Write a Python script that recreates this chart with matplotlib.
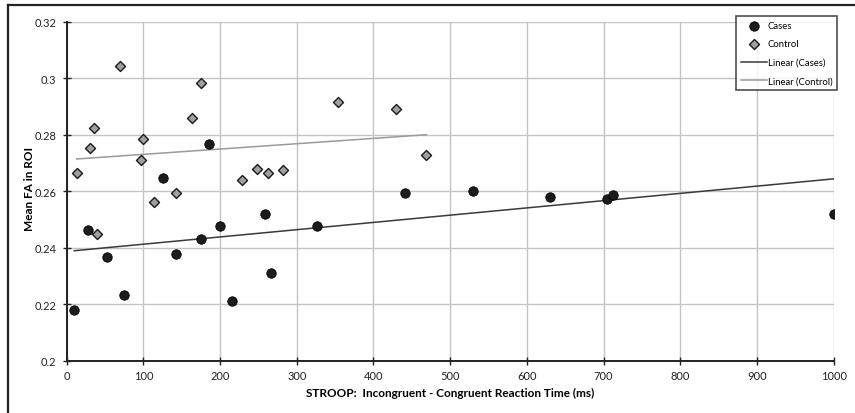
import matplotlib.pyplot as plt
import matplotlib.lines as mlines
import numpy as np

# Cases (black circles)
cases_x = [10, 28, 53, 75, 126, 143, 175, 186, 200, 216, 259, 267, 326, 441, 530, 630, 704, 712, 1000]
cases_y = [0.218, 0.2462, 0.2366, 0.2231, 0.2646, 0.2378, 0.2432, 0.2766, 0.2477, 0.2213,
           0.2519, 0.2311, 0.2477, 0.2595, 0.2599, 0.2581, 0.2572, 0.2587, 0.2518]

# Control (grey diamonds)
control_x = [13, 30, 35, 39, 69, 97, 100, 114, 142, 163, 175, 228, 248, 262, 282, 354, 430, 469]
control_y = [0.2666, 0.2754, 0.2824, 0.2450, 0.3043, 0.2710, 0.2784, 0.2563, 0.2593, 0.2860,
             0.2982, 0.2640, 0.2678, 0.2666, 0.2674, 0.2915, 0.2890, 0.2728]

xticks = list(range(0, 1001, 100))
yticks = [0.2, 0.22, 0.24, 0.26, 0.28, 0.3, 0.32]
ytick_labels = ['0.2', '0.22', '0.24', '0.26', '0.28', '0.3', '0.32']

plt.rcParams['font.family'] = ['Lato', 'DejaVu Sans']

fig = plt.figure(figsize=(8.55, 4.14), dpi=100)
ax = fig.add_axes([0.078, 0.1263, 0.897, 0.8189])

# outer frame (top and left only visible)
fig.add_artist(mlines.Line2D([7.5 / 855, 7.5 / 855], [0, 1 - 6 / 414], color='#222222', lw=1.6))
fig.add_artist(mlines.Line2D([7.5 / 855, 1], [1 - 6 / 414, 1 - 6 / 414], color='#222222', lw=1.6))

ax.scatter(cases_x, cases_y, s=46, marker='o', color='#1c1c1c', edgecolor='#000000',
           linewidth=0.6, zorder=4, label='Cases')
ax.scatter(control_x, control_y, s=26, marker='D', color='#a0a0a0', edgecolor='#1a1a1a',
           linewidth=1.0, zorder=4, label='Control')

# linear trend lines over each data range
cx = np.array(cases_x, dtype=float)
k, b = np.polyfit(cx, cases_y, 1)
xs = np.array([cx.min(), cx.max()])
ax.plot(xs, k * xs + b, color='#3a3a3a', lw=1.1, zorder=3, label='Linear (Cases)')

tx = np.array(control_x, dtype=float)
k2, b2 = np.polyfit(tx, control_y, 1)
xs2 = np.array([tx.min(), tx.max()])
ax.plot(xs2, k2 * xs2 + b2, color='#9a9a9a', lw=1.1, zorder=3, label='Linear (Control)')

ax.set_xlim(0, 1000)
ax.set_ylim(0.2, 0.32)
ax.set_xticks(xticks)
ax.set_yticks(yticks)
ax.set_yticklabels(ytick_labels)
ax.grid(True, color='#c4c4c4', lw=1.0, zorder=0)
ax.set_axisbelow(True)
for s in ['top', 'right']:
    ax.spines[s].set_visible(False)
for s in ['left', 'bottom']:
    ax.spines[s].set_color('#222222')
    ax.spines[s].set_linewidth(1.4)
ax.tick_params(direction='inout', length=6, width=1, colors='#222222', labelsize=8)
ax.tick_params(axis='x', pad=3.5)
ax.tick_params(axis='y', pad=4.5)

ax.set_xlabel('STROOP:  Incongruent - Congruent Reaction Time (ms)', fontsize=8.5,
              fontweight='bold')
ax.set_ylabel('Mean FA in ROI', fontsize=8.5, fontweight='bold')
ax.xaxis.set_label_coords(0.5, -0.077)
ax.yaxis.set_label_coords(-0.0415, 0.51)

leg = ax.legend(loc='upper right', bbox_to_anchor=(1.0047, 1.016), fontsize=6.8, frameon=True,
                fancybox=False, edgecolor='#222222', handlelength=2.75, handletextpad=0.1,
                borderpad=0.5, labelspacing=1.0, scatterpoints=1, borderaxespad=0)
leg.get_frame().set_linewidth(1.2)
leg.set_zorder(5)

fig.savefig('out.png', dpi=100)
